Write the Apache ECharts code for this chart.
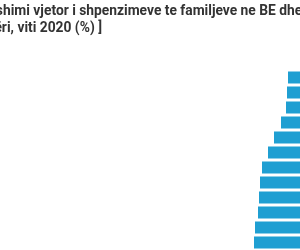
<!DOCTYPE html>
<html>
<head>
<meta charset="utf-8">
<script src="https://cdn.jsdelivr.net/npm/echarts@6/dist/echarts.min.js"></script>
<style>
	html, body { margin: 0; padding: 0; overflow: hidden; background: #fff; }
	#wrap { position: relative; width: 300px; height: 250px; overflow: hidden; }
	#chart { position: absolute; left: -45px; top: 0; width: 400px; height: 250px; }
</style>
</head>
<body>
<div id="wrap"><div id="chart"></div></div>
<script>
	// only part of the original chart is visible in the reference
	const titleLines = [
		"[ Ndryshimi vjetor i shpenzimeve te familjeve ne BE dhe",
		"Shqipëri, viti 2020 (%) ]",
	];
	const categories = ["V1", "V2", "V3", "V4", "V5", "V6", "V7", "V8", "V9", "V10", "V11", "V12"];
	const values = [-6.4, -6.6, -6.8, -7.8, -9.2, -10.4, -11.6, -12, -12.2, -12.4, -13, -13.2];
	const xTicks = [-20, -15, -10, -5, 0];

	let chart = echarts.init(document.getElementById("chart"));
	chart.setOption({
		animation: false,
		title: {
			text: titleLines.join("\n"),
			left: 4,
			top: 3,
			padding: 0,
			textStyle: {
				fontFamily: "Roboto",
				fontSize: 13.8,
				fontWeight: "bold",
				lineHeight: 17,
				color: "#333",
			},
		},
		grid: {
			left: 265,
			right: 35,
			top: 70,
			height: 180,
			containLabel: false,
		},
		xAxis: {
			type: "value",
			min: xTicks[0],
			max: xTicks[xTicks.length - 1],
			interval: 5,
			axisLabel: { show: false },
			axisLine: { show: false },
			axisTick: { show: false },
			splitLine: { show: false },
		},
		yAxis: {
			type: "category",
			data: categories,
			inverse: true,
			axisLabel: { show: false },
			axisLine: { show: false },
			axisTick: { show: false },
		},
		series: [
			{
				type: "bar",
				data: values,
				barCategoryGap: "20%",
				itemStyle: { color: "#1f9fd2" },
			},
		],
	});
</script>
</body>
</html>
